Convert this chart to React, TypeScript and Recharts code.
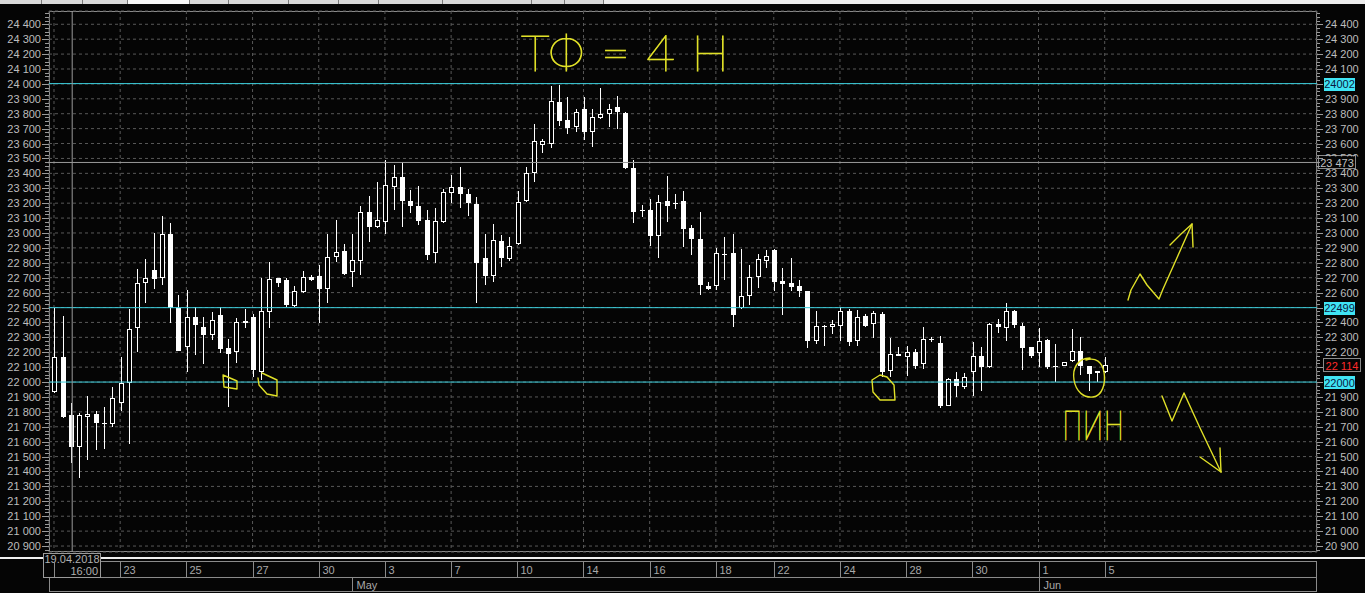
import React from 'react';
import { ComposedChart, Bar, XAxis, YAxis, CartesianGrid, ReferenceLine } from 'recharts';

// 4H candles, 19.04.2018 16:00 .. 05.06.2018
const opens = [
  21931, 22166, 21777, 21566, 21767, 21786, 21720, 21719, 21857, 21992,
  22361, 22662, 22752, 22696, 22991, 22499, 22237, 22434, 22371, 22316,
  22450, 22226, 22200, 22410, 22438, 22069, 22472, 22696, 22685, 22512,
  22606, 22707, 22713, 22622, 22841, 22877, 22736, 22814, 23143, 23042,
  23076, 23310, 23374, 23215, 23181, 23087, 22864, 23076, 23266, 23306,
  23262, 23192, 22830, 22713, 22946, 22823, 22924, 23217, 23404, 23590,
  23595, 23877, 23758, 23709, 23832, 23675, 23773, 23796, 23843, 23803,
  23434, 23155, 23154, 22982, 23215, 23198, 23215, 23031, 22960, 22646,
  22644, 22855, 22864, 22495, 22579, 22707, 22814, 22886, 22680, 22666,
  22644, 22610, 22277, 22376, 22371, 22378, 22477, 22277, 22443, 22387,
  22456, 22074, 22186, 22170, 22204, 22119, 22285, 22260, 21841, 22018,
  21965, 22065, 22175, 22099, 22389, 22361, 22477, 22376, 22233, 22193,
  22282, 22103, 22108, 22141, 22208, 22108, 22063, 22065,
];
const highs = [
  22495, 22443, 21857, 21790, 21906, 21806, 21835, 21965, 22166, 22490,
  22756, 22823, 22998, 23114, 23065, 22584, 22617, 22501, 22434, 22468,
  22501, 22287, 22428, 22490, 22456, 22696, 22803, 22700, 22696, 22644,
  22745, 22716, 22785, 22993, 23087, 22926, 22993, 23181, 23248, 23340,
  23490, 23456, 23478, 23288, 23315, 23154, 23166, 23295, 23389, 23441,
  23295, 23239, 22993, 23060, 22986, 22975, 23282, 23441, 23729, 23628,
  23986, 23993, 23910, 23830, 23914, 23830, 23971, 23865, 23919, 23810,
  23490, 23188, 23226, 23255, 23382, 23260, 23282, 23054, 23139, 22673,
  22897, 22971, 22991, 22893, 22785, 22859, 22886, 22890, 22763, 22830,
  22685, 22612, 22477, 22380, 22416, 22505, 22490, 22483, 22456, 22477,
  22472, 22293, 22233, 22242, 22220, 22371, 22300, 22311, 22025, 22069,
  22063, 22267, 22233, 22395, 22421, 22528, 22483, 22394, 22235, 22361,
  22287, 22253, 22135, 22354, 22300, 22110, 22076, 22170,
];
const lows = [
  21925, 21760, 21459, 21358, 21477, 21544, 21553, 21700, 21808, 21582,
  22204, 22528, 22622, 22651, 22394, 22205, 22069, 22181, 22121, 22282,
  22193, 21835, 22126, 22365, 22032, 22014, 22365, 22640, 22505, 22505,
  22600, 22680, 22394, 22532, 22807, 22720, 22636, 22718, 22941, 23035,
  22993, 23154, 23042, 23132, 23054, 22819, 22797, 23065, 23203, 23166,
  23116, 22532, 22651, 22673, 22774, 22815, 22920, 23210, 23344, 23539,
  23572, 23720, 23664, 23680, 23624, 23579, 23765, 23713, 23696, 23430,
  23069, 23109, 22915, 22834, 23076, 23159, 22908, 22852, 22584, 22618,
  22618, 22685, 22367, 22490, 22517, 22633, 22767, 22613, 22450, 22613,
  22568, 22230, 22255, 22242, 22322, 22275, 22242, 22242, 22370, 22293,
  22032, 22036, 22172, 22040, 22085, 22085, 22272, 21824, 21838, 21902,
  21951, 21906, 21942, 22095, 22327, 22277, 22365, 22081, 22163, 22103,
  22085, 22002, 22105, 22135, 22047, 21942, 22002, 22060,
];
const closes = [
  22166, 21765, 21566, 21777, 21784, 21727, 21726, 21891, 21992, 22354,
  22662, 22696, 22693, 22991, 22499, 22210, 22434, 22383, 22316, 22416,
  22222, 22188, 22401, 22398, 22081, 22475, 22689, 22662, 22517, 22609,
  22707, 22685, 22622, 22841, 22870, 22725, 22819, 23139, 23042, 23085,
  23322, 23374, 23217, 23183, 23080, 22852, 23080, 23273, 23306, 23260,
  23199, 22801, 22713, 22953, 22830, 22915, 23210, 23400, 23617, 23617,
  23885, 23753, 23702, 23810, 23675, 23776, 23796, 23830, 23810, 23434,
  23143, 23150, 22982, 23210, 23183, 23203, 23029, 22958, 22651, 22624,
  22864, 22862, 22450, 22577, 22703, 22825, 22848, 22673, 22658, 22640,
  22613, 22277, 22376, 22378, 22389, 22477, 22267, 22438, 22376, 22461,
  22069, 22186, 22175, 22204, 22110, 22287, 22292, 21841, 22018, 21973,
  22032, 22177, 22103, 22389, 22367, 22477, 22383, 22230, 22175, 22275,
  22099, 22106, 22132, 22208, 22110, 22052, 22074, 22114,
];

const dateTickIdx = [0, 8, 16, 24, 32, 40, 48, 56, 64, 72, 80, 87, 95, 103, 111, 119, 127];
const dateTickLabels = ['', '23', '25', '27', '30', '3', '7', '10', '14', '16', '18', '22', '24', '28', '30', '1', '5'];
const monthTickIdx = [36, 119];
const monthTickLabels = ['May', 'Jun'];

const priceTicks = [
  20900, 21000, 21100, 21200, 21300, 21400, 21500, 21600, 21700, 21800, 21900, 22000,
  22100, 22200, 22300, 22400, 22500, 22600, 22700, 22800, 22900, 23000, 23100, 23200,
  23300, 23400, 23500, 23600, 23700, 23800, 23900, 24000, 24100, 24200, 24300, 24400,
];
const levelLines = [24002, 22499, 22000];
const cursorPrice = 23473;
const cursorIdx = 2.2;
const cursorDate = ['19.04.2018', '16:00'];
const lastPrice = 22114;

const priceDomain = [20860, 24489];
const idxDomain = [-0.604, 152.66];

const rows = opens.map((o, i) => ({ i, open: o, high: highs[i], low: lows[i], close: closes[i] }));
const minorTicks = [20875, ...priceTicks.flatMap((p) => [p + 25, p + 50, p + 75])].filter((v) => v <= priceDomain[1]);
const allPriceTicks = [...priceTicks, ...minorTicks].sort((a, b) => a - b);

const FONT = "'Liberation Sans', Arial, sans-serif";
const HAND = "Lato, Inter, 'DejaVu Sans', sans-serif";
const AXIS_TXT = '#bdbdbd';
const CYAN = '#3ccfdd';
const YEL = '#e0e028';
const PLOT_L = 49;

const fmt = (v: number) => `${Math.floor(v / 1000)} ${String(Math.round(v) % 1000).padStart(3, '0')}`;

function Candle(props: any) {
  const { x, y, width, height, payload } = props;
  if (x == null || !payload) return null;
  const top = Math.min(y, y + height);
  const bot = Math.max(y, y + height);
  const { open, close, high, low } = payload;
  const toY = (v: number) => top + ((high - v) / (high - low)) * (bot - top);
  const cx = Math.round(x + width / 2);
  const left = cx - 2;
  const bTop = Math.round(toY(Math.max(open, close)));
  const bBot = Math.round(toY(Math.min(open, close)));
  const up = close >= open;
  let body;
  if (bBot - bTop < 2) {
    body = <line x1={left} x2={left + 5} y1={bTop + 0.5} y2={bTop + 0.5} stroke="#fff" />;
  } else if (up) {
    body = <rect x={left + 0.5} y={bTop + 0.5} width={4} height={bBot - bTop - 1} fill="#000" stroke="#fff" />;
  } else {
    body = <rect x={left} y={bTop} width={5} height={bBot - bTop} fill="#fff" />;
  }
  return (
    <g>
      <line x1={cx + 0.5} x2={cx + 0.5} y1={Math.round(top)} y2={Math.round(bot)} stroke="#fff" />
      {body}
    </g>
  );
}

const LeftTick = ({ y, payload }: any) => {
  const v = payload.value;
  const major = v % 100 === 0;
  const yy = Math.round(y) + 0.5;
  return (
    <g>
      <line x1={PLOT_L - (major ? 7 : 4)} x2={PLOT_L} y1={yy} y2={yy} stroke="#9a9a9a" />
      {major && (
        <text x={PLOT_L - 8} y={y + 4} textAnchor="end" fontSize={11} fontFamily={FONT} fill={AXIS_TXT}>
          {fmt(v)}
        </text>
      )}
    </g>
  );
};

// right-axis labels that sit under the level / price boxes in the terminal
const hiddenRight = [24000, 22500, 22000, 22100];
const RightTick = ({ x, y, payload }: any) => {
  const v = payload.value;
  const major = v % 100 === 0;
  const yy = Math.round(y) + 0.5;
  const clipped = v === 23500;
  return (
    <g>
      <line x1={x} x2={x + (major ? 6 : 3)} y1={yy} y2={yy} stroke="#9a9a9a" />
      {clipped && (
        <clipPath id="clip23500">
          <rect x={x} y={y - 9} width={48} height={7} />
        </clipPath>
      )}
      {major && !hiddenRight.includes(v) && (
        <text
          x={x + 8}
          y={y + 4}
          textAnchor="start"
          fontSize={11}
          fontFamily={FONT}
          fill={AXIS_TXT}
          clipPath={clipped ? 'url(#clip23500)' : undefined}
        >
          {fmt(v)}
        </text>
      )}
    </g>
  );
};

const DateTick = ({ x, y, payload }: any) => {
  const k = dateTickIdx.indexOf(payload.value);
  const xx = Math.round(x) + 0.5;
  return (
    <g>
      <line x1={xx} x2={xx} y1={y + 10} y2={y + 25} stroke="#8a8a8a" />
      <text x={xx + 3} y={y + 22} fontSize={11} fontFamily={FONT} fill="#a8a8a8">
        {dateTickLabels[k]}
      </text>
    </g>
  );
};

const MonthTick = ({ x, y, payload }: any) => {
  const k = monthTickIdx.indexOf(payload.value);
  const xx = Math.round(x) + 0.5;
  return (
    <g>
      <line x1={xx} x2={xx} y1={y} y2={y + 15} stroke="#8a8a8a" />
      <text x={xx + 4} y={y + 12} fontSize={11} fontFamily={FONT} fill="#a8a8a8">
        {monthTickLabels[k]}
      </text>
    </g>
  );
};

const levelLabel = (v: number) => (p: any) => {
  const vb = p.viewBox;
  const rx = vb.x + vb.width + 7;
  return (
    <g>
      <rect x={rx} y={Math.round(vb.y) - 6} width={31} height={13} fill="#40e4f4" />
      <text x={rx + 15.5} y={vb.y + 4.5} textAnchor="middle" fontSize={11} fontFamily={FONT} fill="#0a1840">
        {v}
      </text>
    </g>
  );
};

const boxLabel = (txt: string, color: string, dx: number, w: number) => (p: any) => {
  const vb = p.viewBox;
  const rx = vb.x + vb.width + dx;
  return (
    <g>
      <rect x={rx + 0.5} y={Math.round(vb.y) - 6.5} width={w} height={13} fill="#050505" stroke="#8a8a8a" />
      <text x={rx + w / 2 + 0.5} y={vb.y + 4.5} textAnchor="middle" fontSize={11} fontFamily={FONT} fill={color}>
        {txt}
      </text>
    </g>
  );
};

const cursorDateLabel = (p: any) => {
  const vb = p.viewBox;
  const bx = Math.round(vb.x) - 29;
  const by = vb.y + vb.height + 1;
  return (
    <g>
      <rect x={bx + 0.5} y={by + 0.5} width={57} height={24} fill="#050505" stroke="#9a9a9a" />
      <text x={bx + 29} y={by + 10} textAnchor="middle" fontSize={11} fontFamily={FONT} fill="#b0b0b0">
        {cursorDate[0]}
      </text>
      <text x={bx + 55} y={by + 22} textAnchor="end" fontSize={11} fontFamily={FONT} fill="#b0b0b0">
        {cursorDate[1]}
      </text>
    </g>
  );
};

function Underlay() {
  const seps = [41, 82, 127, 189, 228, 288, 338, 378, 442, 531, 564, 603];
  return (
    <svg width={1365} height={593} style={{ position: 'absolute', left: 0, top: 0 }}>
      <rect x={0} y={0} width={1365} height={593} fill="#050505" />
      <rect x={0} y={0} width={1365} height={4} fill="#d9d9d9" />
      <rect x={127} y={0} width={62} height={4} fill="#f7f7f7" />
      <rect x={603} y={0} width={762} height={4} fill="#ededed" />
      {seps.map((s) => (
        <rect key={s} x={s} y={0} width={1} height={4} fill="#7a7a7a" />
      ))}
      <rect x={49.5} y={11.5} width={1267} height={540} fill="none" stroke="#8a8a8a" />
      <rect x={0} y={557} width={1365} height={2} fill="#f0f0f0" />
      <line x1={49} x2={1317} y1={561.5} y2={561.5} stroke="#8a8a8a" />
      <line x1={49} x2={1317} y1={577.5} y2={577.5} stroke="#8a8a8a" />
      <line x1={49} x2={1317} y1={591.5} y2={591.5} stroke="#8a8a8a" />
      <line x1={49.5} x2={49.5} y1={577} y2={592} stroke="#8a8a8a" />
      <line x1={1316.5} x2={1316.5} y1={561} y2={592} stroke="#8a8a8a" />
    </svg>
  );
}

function Annotations() {
  const st = { fill: 'none', stroke: YEL, strokeWidth: 1.4, strokeLinejoin: 'round' as const, strokeLinecap: 'round' as const };
  return (
    <svg width={1365} height={593} style={{ position: 'absolute', left: 0, top: 0, pointerEvents: 'none' }}>
      <text x={521} y={71} fontSize={50} fontWeight={200} fontFamily={HAND} fill={YEL} stroke={YEL} strokeWidth={0.9} textLength={208} lengthAdjust="spacing">
        ТФ = 4 Н
      </text>
      <text x={1062} y={440} fontSize={58} fontWeight={200} fontFamily={HAND} fill={YEL} stroke={YEL} strokeWidth={0.9} textLength={62} lengthAdjust="spacingAndGlyphs">
        пин
      </text>
      <path d="M223,375 L224,387 L237,389 L237,381 L230,378 L223,375" {...st} />
      <path d="M262,373 L277,380 L277,396 L267,394 L259,385 L258,378" {...st} />
      <path d="M880,375 L872,380 L873,392 L880,400 L895,400 L894,385 L887,377 Z" {...st} />
      <path d="M1090,358 C1078,358 1072,368 1074,380 C1076,392 1084,398 1093,397 C1102,396 1106,384 1104,372 C1102,362 1096,357 1086,360" {...st} />
      <path d="M1128,300 L1131,290 L1140,274 L1147,285 L1159,299 L1163,289 L1176,260 L1192,224" {...st} />
      <path d="M1170,245 L1181,234 L1192,224 L1193,247" {...st} />
      <path d="M1162,396 L1172,421 L1184,393 L1200,428 L1221,472" {...st} />
      <path d="M1200,457 L1221,472 L1220,448" {...st} />
    </svg>
  );
}

export default function App() {
  return (
    <div style={{ position: 'fixed', left: 0, top: 0, width: 1365, height: 593, background: '#050505', overflow: 'hidden' }}>
      <Underlay />
      <ComposedChart
        width={1365}
        height={593}
        data={rows}
        margin={{ top: 11, right: 0, bottom: 0, left: 0 }}
        style={{ position: 'absolute', left: 0, top: 0 }}
      >
        <XAxis
          xAxisId="d"
          dataKey="i"
          type="number"
          domain={idxDomain}
          allowDataOverflow
          ticks={dateTickIdx}
          interval={0}
          height={25}
          tickSize={0}
          tickMargin={0}
          axisLine={false}
          tick={DateTick}
        />
        <XAxis
          xAxisId="m"
          dataKey="i"
          type="number"
          domain={idxDomain}
          allowDataOverflow
          ticks={monthTickIdx}
          interval={0}
          height={16}
          tickSize={0}
          tickMargin={0}
          axisLine={false}
          tick={MonthTick}
        />
        <YAxis
          yAxisId="l"
          orientation="left"
          width={49}
          domain={priceDomain}
          allowDataOverflow
          ticks={allPriceTicks}
          interval={0}
          tickSize={0}
          tickMargin={0}
          axisLine={false}
          tick={LeftTick}
        />
        <YAxis
          yAxisId="r"
          orientation="right"
          width={48}
          domain={priceDomain}
          allowDataOverflow
          ticks={allPriceTicks}
          interval={0}
          tickSize={0}
          tickMargin={0}
          axisLine={false}
          tick={RightTick}
        />
        <YAxis yAxisId="g" hide domain={priceDomain} allowDataOverflow ticks={priceTicks} interval={0} />
        <CartesianGrid xAxisId="d" yAxisId="g" stroke="#595959" strokeDasharray="3 3" />
        <Bar
          xAxisId="d"
          yAxisId="l"
          dataKey={(d: any) => [d.low, d.high]}
          barSize={5}
          isAnimationActive={false}
          shape={Candle}
        />
        {levelLines.map((v) => (
          <ReferenceLine key={v} xAxisId="d" yAxisId="l" y={v} stroke={CYAN} label={levelLabel(v)} />
        ))}
        <ReferenceLine xAxisId="d" yAxisId="l" y={cursorPrice} stroke="#9a9a9a" label={boxLabel(fmt(cursorPrice), '#c0c0c0', 1, 37)} />
        <ReferenceLine xAxisId="d" yAxisId="l" y={lastPrice} stroke="none" label={boxLabel(fmt(lastPrice), '#ff2a2a', 6, 37)} />
        <ReferenceLine xAxisId="d" yAxisId="l" x={cursorIdx} stroke="#9a9a9a" label={cursorDateLabel} />
      </ComposedChart>
      <Annotations />
    </div>
  );
}
